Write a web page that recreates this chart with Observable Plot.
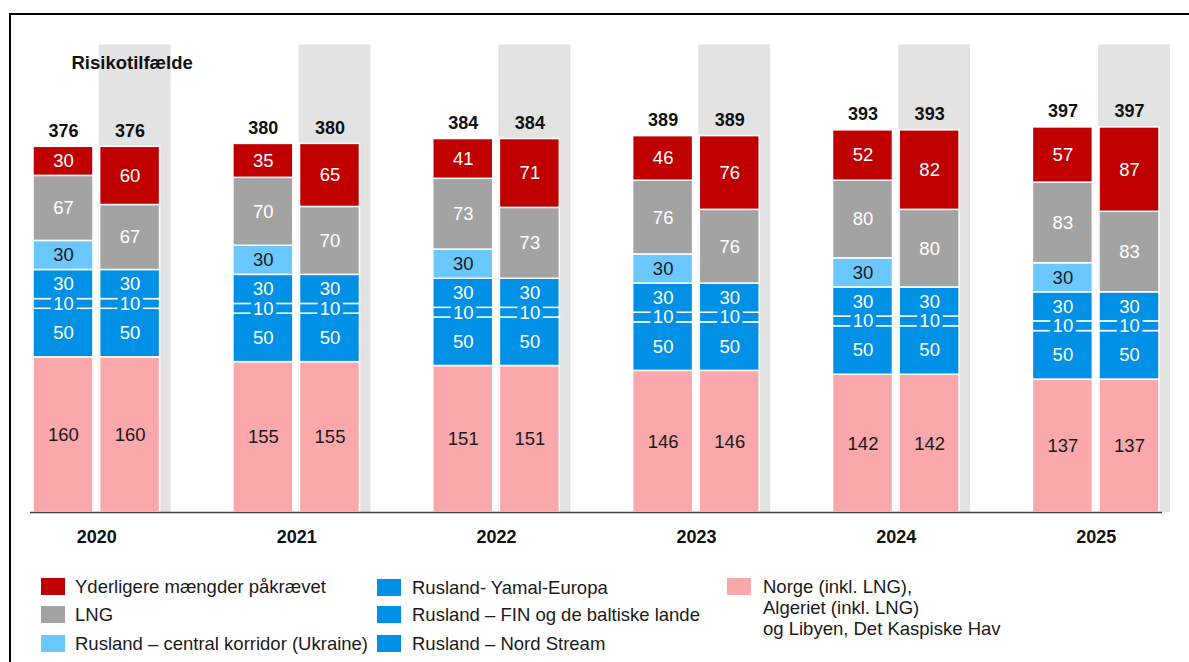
<!DOCTYPE html>
<html><head><meta charset="utf-8">
<script src="https://cdn.jsdelivr.net/npm/d3@7"></script>
<script src="https://cdn.jsdelivr.net/npm/@observablehq/plot@0.6"></script>
<style>
body{margin:0;background:#fff;font-family:"Liberation Sans",Arial,sans-serif;}
#wrap{position:relative;width:1189px;height:662px;overflow:hidden;background:#fff;}
#frame{position:absolute;left:9px;top:13px;width:1300px;height:800px;border-top:2px solid #000;border-left:2px solid #000;}
#chart{position:absolute;left:0;top:0;}
.lg{position:absolute;font-size:18.5px;color:#1a1a1a;line-height:21px;white-space:nowrap;}
.sw{position:absolute;width:24px;height:17px;}
</style></head><body>
<div id="wrap"><div id="frame"></div><div id="chart"></div><div id="legend"></div></div>
<script>
// ---- data ----
const years = ["2020", "2021", "2022", "2023", "2024", "2025"];
const scenarios = ["Basis", "Risiko"];
const seriesNames = [
  "Norge (inkl. LNG), Algeriet (inkl. LNG) og Libyen, Det Kaspiske Hav",
  "Rusland – Nord Stream",
  "Rusland – FIN og de baltiske lande",
  "Rusland- Yamal-Europa",
  "Rusland – central korridor (Ukraine)",
  "LNG",
  "Yderligere mængder påkrævet"
];
const seriesColors = ["#faa8ab", "#0091e6", "#0091e6", "#0091e6", "#6ac8ff", "#a3a3a3", "#c00000"];
const labelColors = ["#1a1a1a", "#ffffff", "#ffffff", "#ffffff", "#1a1a1a", "#ffffff", "#ffffff"];

const norge        = [160, 155, 151, 146, 142, 137];
const nordStream   = [50, 50, 50, 50, 50, 50];
const finBaltic    = [10, 10, 10, 10, 10, 10];
const yamal        = [30, 30, 30, 30, 30, 30];
const ukraineBasis = [30, 30, 30, 30, 30, 30];
const ukraineRisk  = [0, 0, 0, 0, 0, 0];
const lng          = [67, 70, 73, 76, 80, 83];
const extraBasis   = [30, 35, 41, 46, 52, 57];
const extraRisk    = [60, 65, 71, 76, 82, 87];
const totals       = [376, 380, 384, 389, 393, 397];
const titleLabel = "Risikotilfælde";
const bgTop = 482;

const seriesValues = {
  Basis:  [norge, nordStream, finBaltic, yamal, ukraineBasis, lng, extraBasis],
  Risiko: [norge, nordStream, finBaltic, yamal, ukraineRisk, lng, extraRisk]
};

// ---- build table ----
const rows = [];
const tops = [];
years.forEach((yr, i) => {
  scenarios.forEach(sc => {
    let cum = 0;
    seriesValues[sc].forEach((arr, si) => {
      const v = arr[i];
      if (v > 0) {
        rows.push({key: yr + "|" + sc, series: seriesNames[si], si, value: v, y1: cum, y2: cum + v});
        cum += v;
      }
    });
    tops.push({key: yr + "|" + sc, top: cum, total: totals[i]});
  });
});
const keys = years.flatMap((yr, i) => i < years.length - 1 ? [yr + "|Basis", yr + "|Risiko", yr + "|gap"] : [yr + "|Basis", yr + "|Risiko"]);

const W = 1189, ML = 30, MR = 27, PI = 0.1, PO = 0.045;
const step = (W - ML - MR) / (keys.length - PI + 2 * PO);

const textMarks = [];
seriesNames.forEach((s, si) => {
  const isThin = s === "Rusland – FIN og de baltiske lande";
  textMarks.push(Plot.text(rows.filter(d => d.si === si), {
    x: "key", y: d => (d.y1 + d.y2) / 2, text: d => String(d.value),
    fill: labelColors[si], fontSize: 18.5,
    stroke: isThin ? seriesColors[si] : undefined,
    strokeWidth: isThin ? 8 : undefined
  }));
});

const chart = Plot.plot({
  width: W, height: 560,
  marginLeft: ML, marginRight: MR, marginTop: 27, marginBottom: 48,
  style: {fontFamily: "'Liberation Sans', Arial, sans-serif", background: "transparent"},
  x: {domain: keys, paddingInner: PI, paddingOuter: PO, round: false, axis: null},
  y: {domain: [0, 500], axis: null},
  color: {domain: seriesNames, range: seriesColors},
  marks: [
    Plot.barY(years, {x: d => d + "|Risiko", y1: () => 0, y2: () => bgTop, fill: "#e3e3e3", insetLeft: -1, insetRight: -11}),
    Plot.barY(rows, {x: "key", y1: "y1", y2: "y2", fill: "series", stroke: "#fff", strokeWidth: 1.5}),
    Plot.ruleY([0], {stroke: "#444", strokeWidth: 1.5}),
    ...textMarks,
    Plot.text(tops, {x: "key", y: "top", text: d => String(d.total), dy: -16, fontSize: 18, fontWeight: "bold", fill: "#111"}),
    Plot.text(years, {x: d => d + "|Basis", y: () => 0, text: d => d, dx: step / 2, dy: 25, fontSize: 18, fontWeight: "bold", fill: "#111"}),
    Plot.text([titleLabel], {x: () => years[0] + "|Risiko", y: () => 463, text: d => d, dx: 2, fontSize: 18.5, fontWeight: "bold", fill: "#111"})
  ]
});
document.getElementById("chart").appendChild(chart);

// ---- legend ----
const legendItems = [
  {si: 6, lines: ["Yderligere mængder påkrævet"], sx: 41, tx: 75, cy: 586},
  {si: 5, lines: ["LNG"], sx: 41, tx: 75, cy: 614},
  {si: 4, lines: ["Rusland – central korridor (Ukraine)"], sx: 41, tx: 75, cy: 643},
  {si: 3, lines: ["Rusland- Yamal-Europa"], sx: 377, tx: 412, cy: 587},
  {si: 2, lines: ["Rusland – FIN og de baltiske lande"], sx: 377, tx: 412, cy: 614},
  {si: 1, lines: ["Rusland – Nord Stream"], sx: 377, tx: 412, cy: 643},
  {si: 0, lines: ["Norge (inkl. LNG),", "Algeriet (inkl. LNG)", "og Libyen, Det Kaspiske Hav"], sx: 727, tx: 763, cy: 586}
];
const lg = document.getElementById("legend");
legendItems.forEach(it => {
  const sw = document.createElement("div");
  sw.className = "sw";
  sw.style.left = it.sx + "px";
  sw.style.top = (it.cy - 8.5) + "px";
  sw.style.background = seriesColors[it.si];
  lg.appendChild(sw);
  const t = document.createElement("div");
  t.className = "lg";
  t.style.left = it.tx + "px";
  t.style.top = (it.cy - 10.5) + "px";
  t.innerHTML = it.lines.join("<br>");
  lg.appendChild(t);
});
</script>
</body></html>
